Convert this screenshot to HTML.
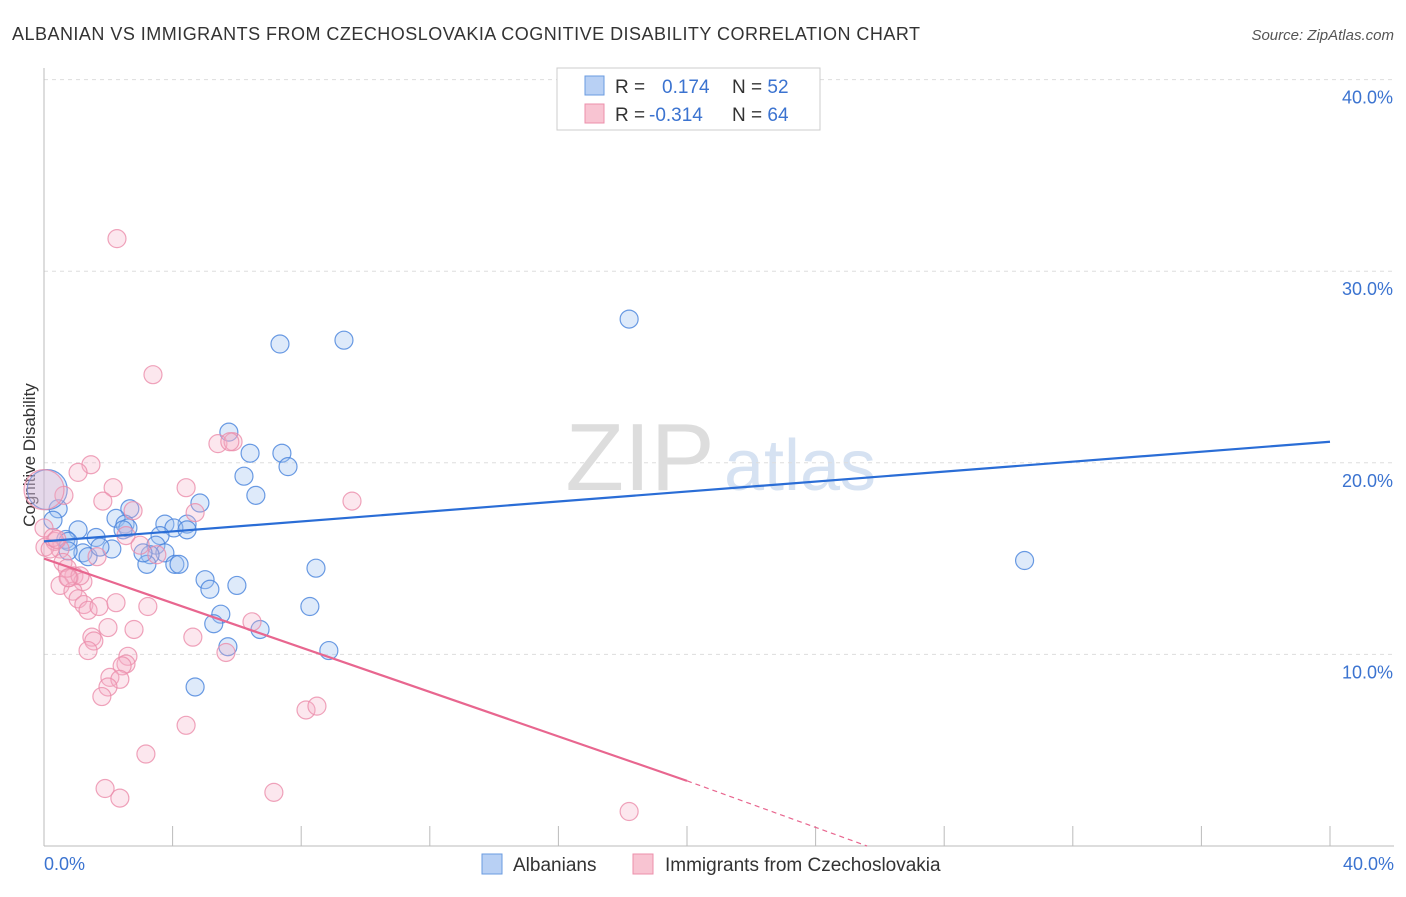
<!DOCTYPE html>
<html><head><meta charset="utf-8"><style>
body{margin:0;background:#fff;font-family:"Liberation Sans",sans-serif;}
svg text{font-family:"Liberation Sans",sans-serif;}
</style></head><body>
<svg id="chart" width="1406" height="892" xmlns="http://www.w3.org/2000/svg">
<text x="12" y="40" font-size="18" fill="#333" textLength="908">ALBANIAN VS IMMIGRANTS FROM CZECHOSLOVAKIA COGNITIVE DISABILITY CORRELATION CHART</text>
<text x="1394" y="40" font-size="15" fill="#555" font-style="italic" text-anchor="end">Source: ZipAtlas.com</text>
<text x="640" y="490" font-size="96" fill="#ddd" font-family="Liberation Serif" text-anchor="middle">ZIP</text>
<text x="800" y="490" font-size="72" fill="#d6e2f2" text-anchor="middle">atlas</text>
<g id="grid"></g>
<line x1="44" y1="68" x2="44" y2="846" stroke="#bbb"/>
<line x1="44" y1="846" x2="1394" y2="846" stroke="#bbb"/>
<text transform="translate(35,455) rotate(-90)" font-size="17" fill="#333" text-anchor="middle">Cognitive Disability</text>
<text x="44" y="870" font-size="18" fill="#3b73d0">0.0%</text>
<text x="1394" y="870" font-size="18" fill="#3b73d0" text-anchor="end">40.0%</text>
<g id="pts"></g>
<g id="lines"></g>
<g>
<rect x="557" y="68" width="263" height="62" fill="#fff" stroke="#ccc"/>
<rect x="585" y="76" width="19" height="19" fill="#b8d0f4" stroke="#6a9be0"/>
<rect x="585" y="104" width="19" height="19" fill="#f8c4d2" stroke="#ec8fab"/>
<text x="615" y="93" font-size="19" fill="#333">R = <tspan fill="#3b73d0" x="662">0.174</tspan><tspan x="732" fill="#333">N = </tspan><tspan fill="#3b73d0">52</tspan></text>
<text x="615" y="121" font-size="19" fill="#333">R = <tspan fill="#3b73d0" x="649">-0.314</tspan><tspan x="732" fill="#333">N = </tspan><tspan fill="#3b73d0">64</tspan></text>
</g>
<g>
<rect x="482" y="854" width="20" height="20" fill="#b8d0f4" stroke="#6a9be0"/>
<text x="513" y="871" font-size="19" fill="#333">Albanians</text>
<rect x="633" y="854" width="20" height="20" fill="#f8c4d2" stroke="#ec8fab"/>
<text x="665" y="871" font-size="19" fill="#333">Immigrants from Czechoslovakia</text>
</g>
</svg>
<script>
const yTicks=[10,20,30,40];
const yTickLabels=["10.0%","20.0%","30.0%","40.0%"];
const xTickVals=[0,4,8,12,16,20,24,28,32,36,40];
const blueX=[18.2,9.33,7.34,5.75,6.41,7.4,7.59,6.22,6.59,4.85,0.44,2.67,2.24,2.52,2.61,1.06,3.76,4.45,4.04,4.45,3.61,2.46,0.68,1.62,3.48,2.11,1.21,3.76,3.3,1.37,3.2,4.07,4.2,0.75,5.01,5.16,6.0,8.46,5.5,5.28,6.72,8.27,5.72,8.86,4.7,30.5,0.1,0.28,1.74,3.08,0.75];
const blueY=[27.5,26.4,26.2,21.6,20.5,20.5,19.8,19.3,18.3,17.9,17.6,17.6,17.1,16.8,16.6,16.5,16.8,16.8,16.6,16.5,16.2,16.5,16.0,16.1,15.7,15.5,15.3,15.3,15.2,15.1,14.7,14.7,14.7,15.9,13.9,13.4,13.6,14.5,12.1,11.6,11.3,12.5,10.4,10.2,8.3,14.9,18.6,17.0,15.6,15.3,15.4];
const blueR=[9,9,9,9,9,9,9,9,9,9,9,9,9,9,9,9,9,9,9,9,9,9,9,9,9,9,9,9,9,9,9,9,9,9,9,9,9,9,9,9,9,9,9,9,9,9,20,9,9,9,9];
const pinkX=[2.27,3.39,5.41,5.88,1.46,1.06,9.58,4.42,0.62,2.15,1.83,2.77,2.55,1.65,0.5,0.03,0.34,3.51,0.93,0.78,1.21,0.5,0.9,1.06,1.24,1.37,1.71,1.99,2.8,3.23,2.24,1.49,1.55,1.37,4.63,6.47,5.66,2.61,2.55,2.43,2.05,2.36,1.99,1.8,4.42,3.17,8.15,8.49,1.9,2.36,7.15,18.2,0.59,0.19,0.0,5.78,0.0,0.28,0.72,1.12,4.7,0.4,0.75,2.99];
const pinkY=[31.7,24.6,21.0,21.1,19.9,19.5,18.0,18.7,18.3,18.7,18.0,17.5,16.2,15.1,15.5,15.6,15.9,15.2,14.1,14.0,13.8,13.6,13.3,12.9,12.6,12.3,12.5,11.4,11.3,12.5,12.7,10.9,10.7,10.2,10.9,11.7,10.1,9.9,9.5,9.4,8.8,8.7,8.3,7.8,6.3,4.8,7.1,7.3,3.0,2.5,2.8,1.8,14.8,15.5,18.6,21.1,16.6,16.1,14.5,14.1,17.4,16.0,14.0,15.7];
const pinkR=[9,9,9,9,9,9,9,9,9,9,9,9,9,9,9,9,9,9,9,9,9,9,9,9,9,9,9,9,9,9,9,9,9,9,9,9,9,9,9,9,9,9,9,9,9,9,9,9,9,9,9,9,9,9,20,9,9,9,9,9,9,9,9,9];
const blueTrend=[15.9,21.1];
const pinkTrend=[15.0,3.4,0.0];
const pinkTrendX=[0,20,25.6];
const NS="http://www.w3.org/2000/svg";
const sx=v=>44+v/40*1286;
const sy=v=>846-v/10*191.6;
function mk(tag,attrs,parent){const e=document.createElementNS(NS,tag);for(const k in attrs)e.setAttribute(k,attrs[k]);parent.appendChild(e);return e;}
const grid=document.getElementById('grid');
yTicks.forEach((t,i)=>{
 const l=mk('line',{x1:44,x2:1394,y1:sy(t),y2:sy(t),stroke:'#ddd','stroke-dasharray':'4,4'},grid);
 
 
 const tx=mk('text',{x:1393,y:sy(t)+24,'font-size':18,fill:'#3b73d0','text-anchor':'end'},grid);
 tx.textContent=yTickLabels[i];
 
 
});
xTickVals.forEach(v=>{
 const l=mk('line',{x1:sx(v),x2:sx(v),y1:826,y2:846,stroke:'#bbb'},grid);
 
 
});
const pts=document.getElementById('pts');
blueX.forEach((x,i)=>{
 const c=mk('circle',{cx:sx(x),cy:sy(blueY[i]),r:blueR[i],fill:'rgba(160,195,240,0.35)',stroke:'rgba(70,130,220,0.8)','stroke-width':1.2},pts);
 
 
});
pinkX.forEach((x,i)=>{
 const c=mk('circle',{cx:sx(x),cy:sy(pinkY[i]),r:pinkR[i],fill:'rgba(245,175,200,0.3)',stroke:'rgba(235,140,170,0.8)','stroke-width':1.2},pts);
 
 
});
const lines=document.getElementById('lines');
const bl=mk('line',{x1:sx(0),y1:sy(blueTrend[0]),x2:sx(40),y2:sy(blueTrend[1]),stroke:'#2a6dd6','stroke-width':2.2},lines);


const pl=mk('line',{x1:sx(pinkTrendX[0]),y1:sy(pinkTrend[0]),x2:sx(pinkTrendX[1]),y2:sy(pinkTrend[1]),stroke:'#e8668f','stroke-width':2.2},lines);


const pd=mk('line',{x1:sx(pinkTrendX[1]),y1:sy(pinkTrend[1]),x2:sx(pinkTrendX[2]),y2:sy(pinkTrend[2]),stroke:'#e8668f','stroke-width':1.2,'stroke-dasharray':'5,4'},lines);


</script>
</body></html>
